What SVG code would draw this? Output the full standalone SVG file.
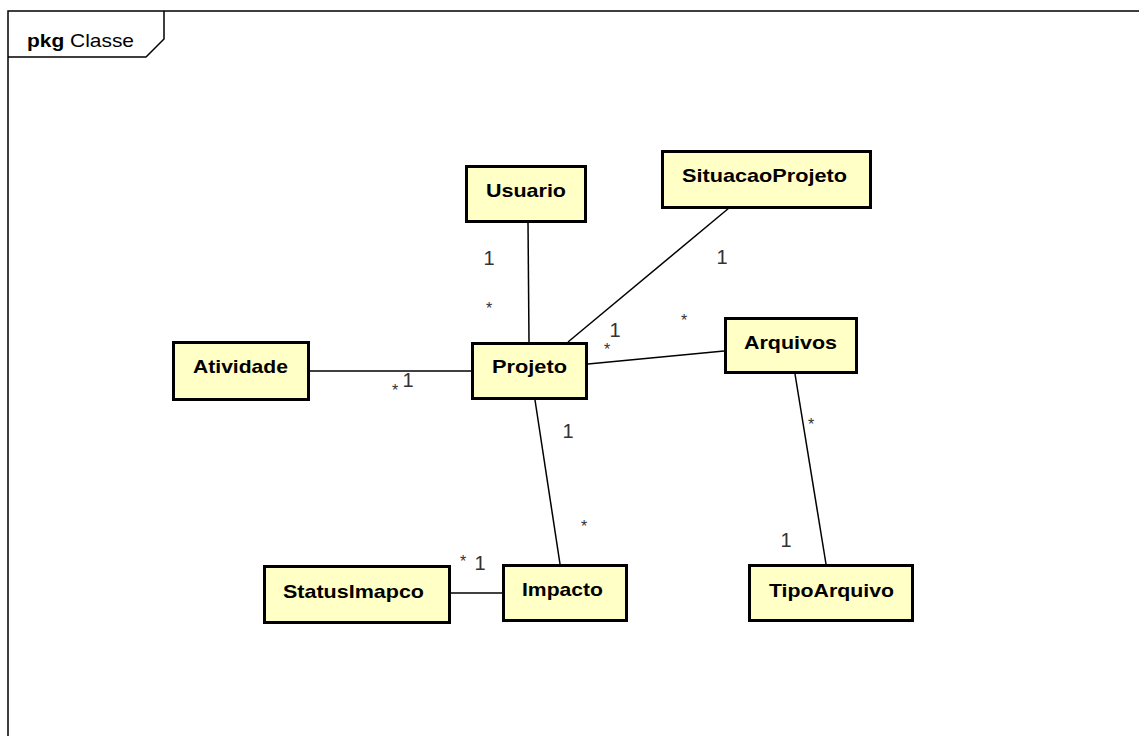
<svg xmlns="http://www.w3.org/2000/svg" width="1139" height="736" viewBox="0 0 1139 736">
<style>
.frame{fill:none;stroke:#000;stroke-width:1.5}
.box{fill:#FFFFC6;stroke:#000;stroke-width:3}
.nl{font-family:"Liberation Sans",Arial,sans-serif;font-weight:bold;font-size:19px;fill:#000;text-anchor:middle}
.conn line{stroke:#000;stroke-width:1.5}
.m{font-family:"Liberation Sans",Arial,sans-serif;font-size:20px;fill:#333;text-anchor:middle}
.s{font-family:"Liberation Sans",Arial,sans-serif;font-size:16px;fill:#333;text-anchor:middle}
</style>
<rect x="0" y="0" width="1139" height="736" fill="#fff"/>
<g id="frame">
<path class="frame" d="M8,736 L8,11 L1139,11"/>
<path class="frame" d="M8,57 L146,57 L164,39 L164,11"/>
<text x="27" y="47" font-family="Liberation Sans,Arial,sans-serif" font-size="19px" fill="#000" textLength="107" lengthAdjust="spacingAndGlyphs"><tspan font-weight="bold">pkg</tspan> Classe</text>
</g>
<g id="connectors" class="conn">
<line x1="528" y1="222" x2="529" y2="342"/>
<line x1="729" y1="208" x2="568" y2="342"/>
<line x1="588" y1="364" x2="724" y2="351"/>
<line x1="310" y1="371" x2="471" y2="371"/>
<line x1="535" y1="400" x2="560" y2="564"/>
<line x1="450" y1="593" x2="502" y2="593"/>
<line x1="795" y1="374" x2="826" y2="564"/>
<text class="m" x="489" y="265">1</text>
<text class="s" x="489" y="314">*</text>
<text class="m" x="722" y="264">1</text>
<text class="m" x="615" y="337">1</text>
<text class="s" x="607" y="355">*</text>
<text class="s" x="684" y="326">*</text>
<text class="m" x="408" y="387">1</text>
<text class="s" x="395" y="396">*</text>
<text class="m" x="568" y="438">1</text>
<text class="s" x="584" y="532">*</text>
<text class="s" x="463" y="567">*</text>
<text class="m" x="480" y="570">1</text>
<text class="s" x="811" y="430">*</text>
<text class="m" x="786" y="547">1</text>
</g>
<g id="Usuario"><rect class="box" x="466.5" y="166.5" width="119" height="55"/><text class="nl" x="526" y="197" textLength="80" lengthAdjust="spacingAndGlyphs">Usuario</text></g>
<g id="SituacaoProjeto"><rect class="box" x="662.5" y="151.5" width="208" height="56"/><text class="nl" x="764.5" y="182" textLength="165" lengthAdjust="spacingAndGlyphs">SituacaoProjeto</text></g>
<g id="Atividade"><rect class="box" x="173.5" y="342.5" width="135" height="57"/><text class="nl" x="240.5" y="373" textLength="95" lengthAdjust="spacingAndGlyphs">Atividade</text></g>
<g id="Projeto"><rect class="box" x="472.5" y="343.5" width="114" height="55"/><text class="nl" x="529.5" y="373" textLength="75" lengthAdjust="spacingAndGlyphs">Projeto</text></g>
<g id="Arquivos"><rect class="box" x="725.5" y="318.5" width="131" height="54"/><text class="nl" x="790.5" y="349" textLength="93" lengthAdjust="spacingAndGlyphs">Arquivos</text></g>
<g id="StatusImapco"><rect class="box" x="264.5" y="566.5" width="185" height="56"/><text class="nl" x="353.5" y="598" textLength="141" lengthAdjust="spacingAndGlyphs">StatusImapco</text></g>
<g id="Impacto"><rect class="box" x="503.5" y="565.5" width="123" height="55"/><text class="nl" x="562.5" y="596" textLength="81" lengthAdjust="spacingAndGlyphs">Impacto</text></g>
<g id="TipoArquivo"><rect class="box" x="749.5" y="565.5" width="163" height="55"/><text class="nl" x="831.5" y="597" textLength="125" lengthAdjust="spacingAndGlyphs">TipoArquivo</text></g>
</svg>
